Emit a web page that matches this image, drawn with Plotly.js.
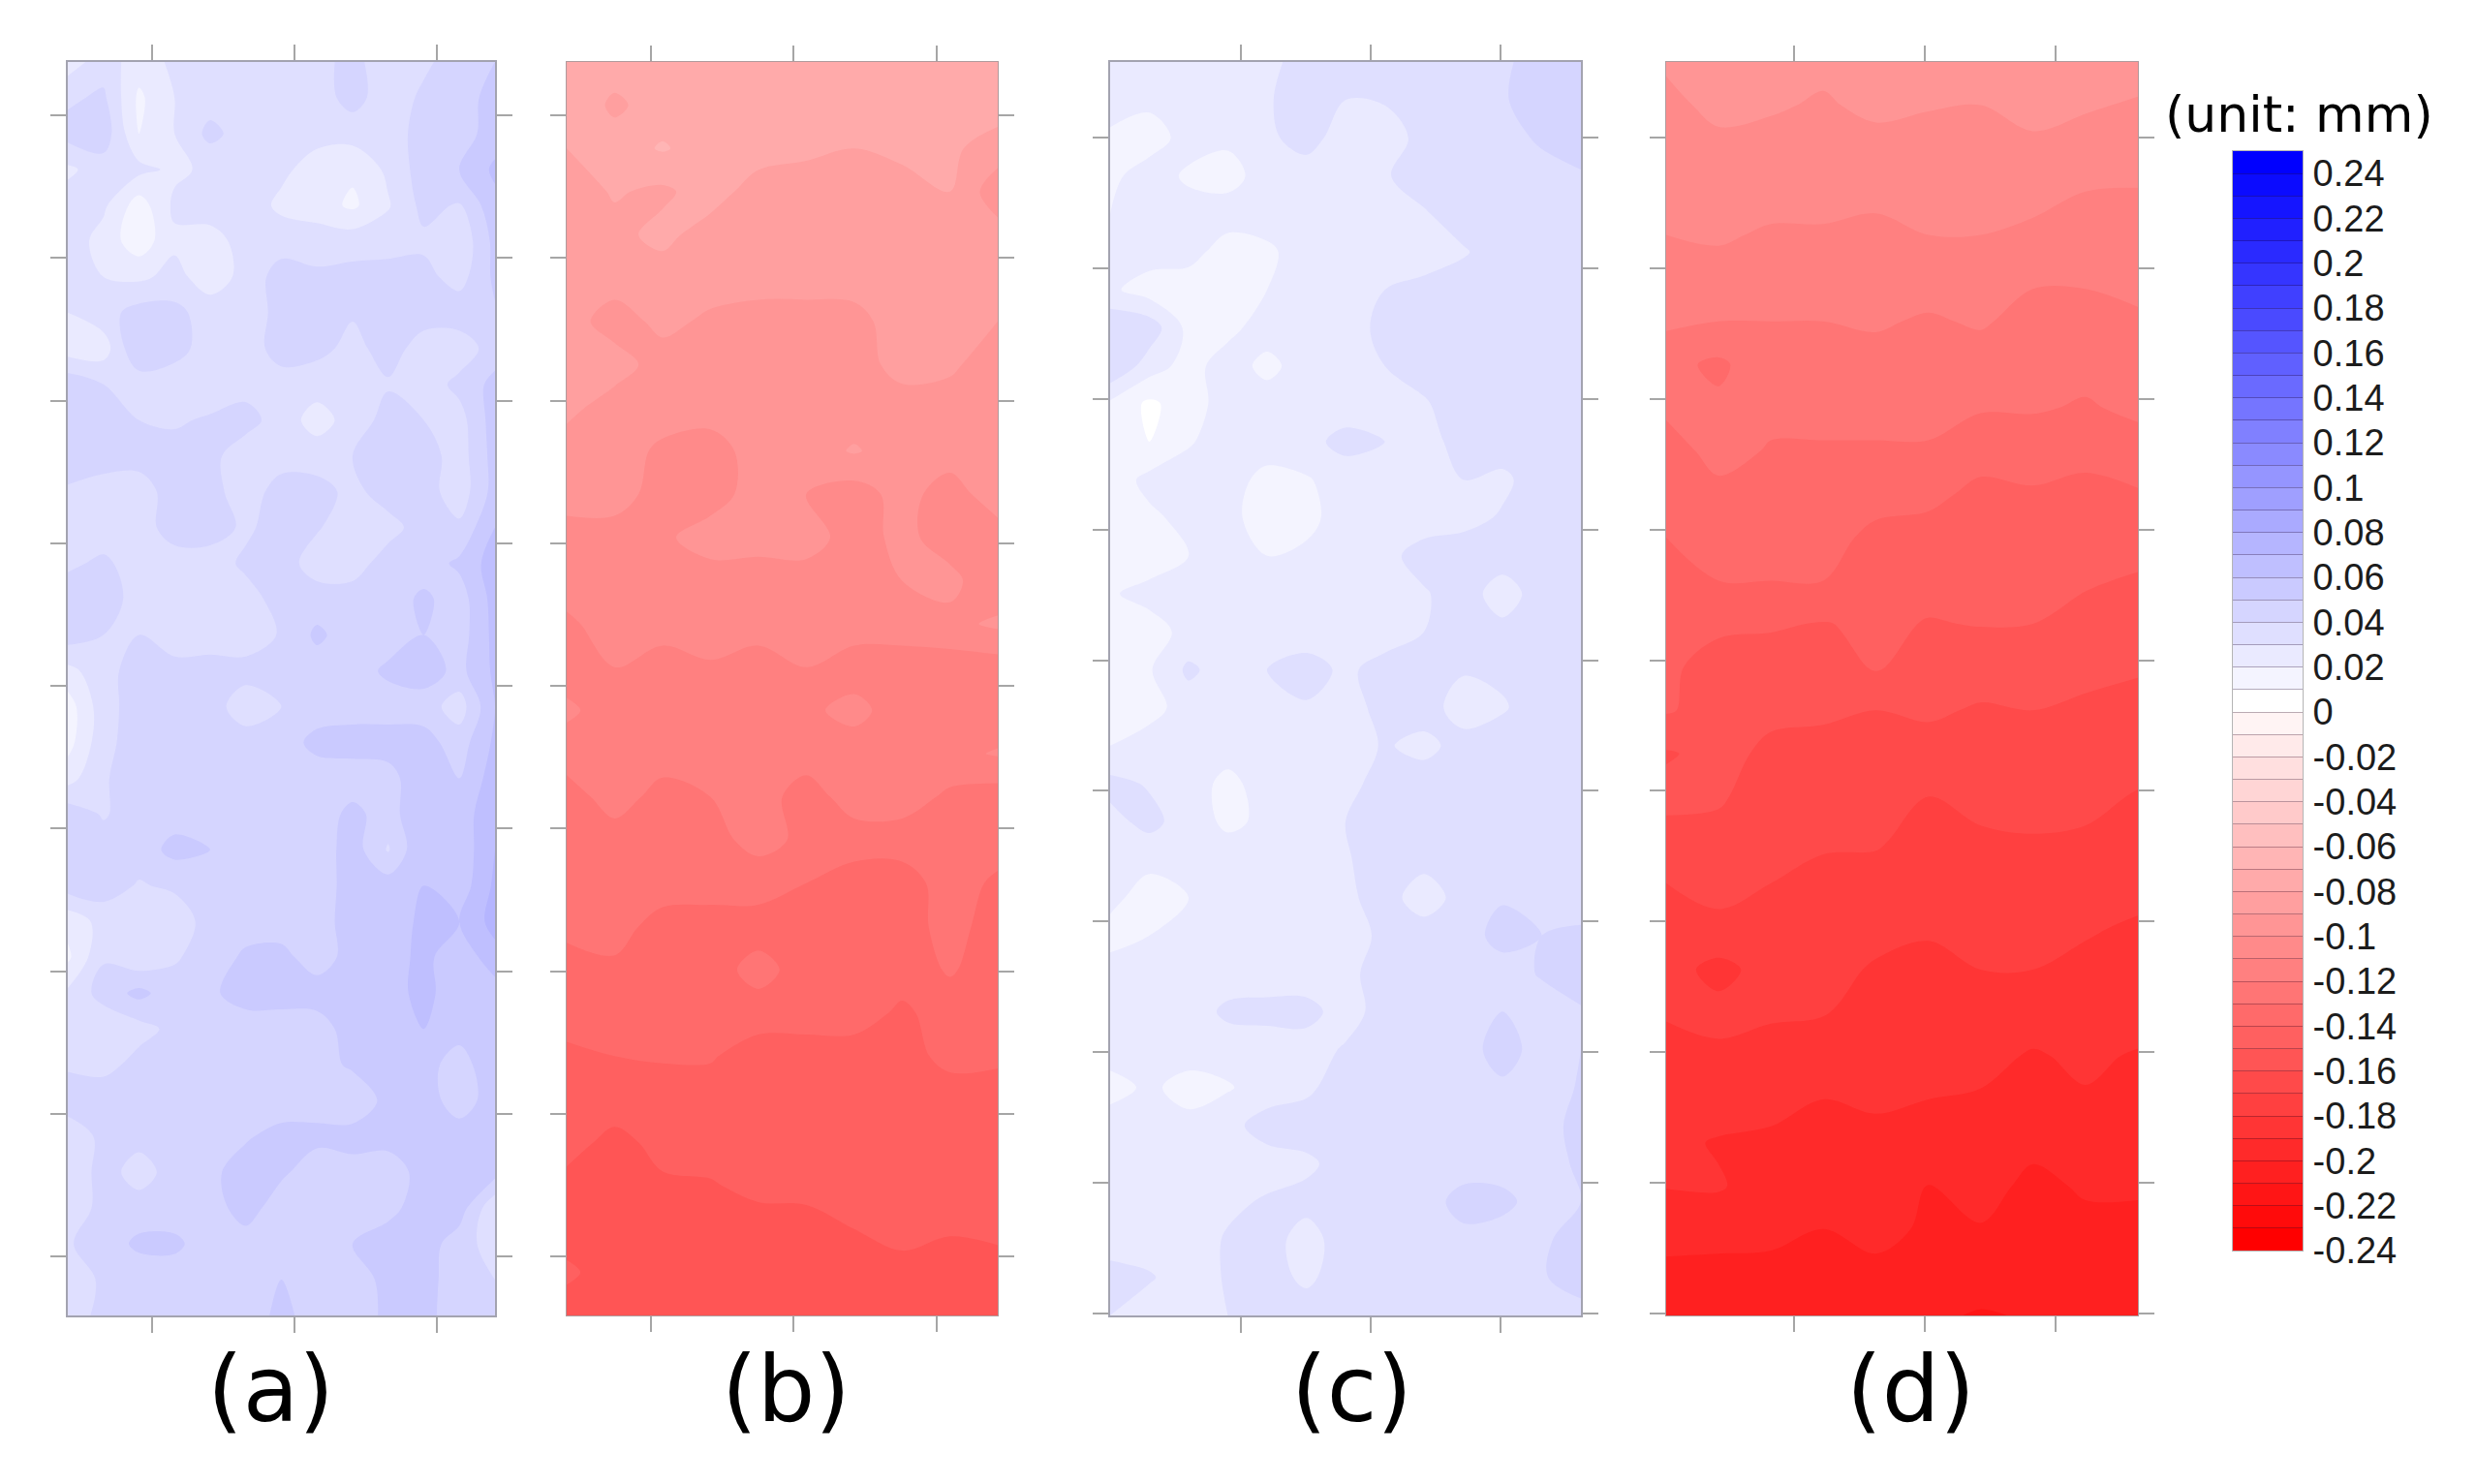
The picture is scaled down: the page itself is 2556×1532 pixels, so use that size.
<!DOCTYPE html>
<html>
<head>
<meta charset="utf-8">
<script src="https://cdn.plot.ly/plotly-3.0.1.min.js"></script>
<style>html,body{margin:0;padding:0;background:#fff}</style>
</head>
<body>
<div id="divplot" style="width:2556px;height:1532px"></div>
<script>
// displacement, hundredths of a mm, rows top to bottom
var zPanelA = [
    [2.5,3.5,2.5,3.2,3.5,3.5,3.5,3.5,4.5,3.0,3.8,4.5,5.0],
    [3.8,4.2,1.8,3.0,3.5,3.8,3.5,3.5,4.4,3.4,4.2,4.5,5.4],
    [4.4,4.6,2.0,3.0,4.3,3.5,3.5,3.3,3.4,3.5,4.4,4.5,5.5],
    [2.8,3.5,3.3,2.8,3.2,3.5,3.2,2.6,2.2,3.2,4.5,5.0,6.2],
    [3.5,3.2,1.5,3.2,3.5,3.5,2.8,2.5,1.8,2.9,4.3,3.9,5.7],
    [3.6,2.6,1.4,2.8,2.6,3.4,3.5,3.5,3.6,3.6,3.8,3.2,5.3],
    [3.6,3.0,2.8,3.3,2.5,3.3,4.5,4.2,4.3,4.4,4.3,3.6,5.2],
    [3.0,3.6,4.4,4.3,3.5,3.0,4.6,4.4,4.1,4.2,4.4,4.6,4.9],
    [2.5,2.5,5.0,4.4,3.5,3.4,4.5,4.3,3.7,4.4,3.6,3.4,4.5],
    [4.7,4.0,3.4,3.4,3.5,3.6,3.5,3.4,3.8,3.9,3.4,4.3,5.3],
    [5.0,4.4,4.0,3.9,4.1,4.4,3.5,2.6,3.4,4.4,4.0,3.6,5.5],
    [4.8,4.5,4.4,4.3,4.3,3.4,3.5,3.5,4.0,4.5,4.5,3.5,5.4],
    [3.8,3.5,3.5,4.5,4.4,3.4,4.5,4.4,3.7,4.5,4.5,3.4,5.4],
    [3.3,3.4,3.5,4.5,4.5,3.8,4.5,4.1,3.4,3.6,4.5,4.2,6.0],
    [3.8,4.2,3.5,3.5,3.5,4.2,4.5,3.5,3.5,4.5,4.5,5.2,6.5],
    [4.6,4.5,3.6,3.5,3.4,3.6,4.4,4.5,4.5,4.5,5.2,4.5,6.4],
    [4.5,4.0,4.0,3.4,3.4,3.4,4.1,5.2,4.5,4.5,5.0,4.5,6.3],
    [2.7,3.6,4.5,4.4,4.5,4.4,4.5,4.5,4.5,5.2,5.5,4.7,6.2],
    [1.5,3.6,4.5,4.5,4.5,3.4,4.0,4.5,4.5,4.5,4.5,3.5,6.0],
    [1.6,3.7,4.5,4.5,4.5,4.5,4.5,5.3,5.5,5.5,5.4,4.5,6.2],
    [2.6,3.9,4.5,4.5,4.5,5.0,4.6,4.5,4.4,4.6,5.8,5.0,6.5],
    [4.6,3.9,4.5,4.6,4.5,4.4,4.4,4.4,5.3,4.5,6.0,5.5,6.7],
    [4.6,4.5,4.5,5.3,5.0,4.4,4.4,4.4,5.5,3.9,6.0,5.3,7.0],
    [4.5,4.5,3.9,4.2,5.0,4.4,4.4,4.5,5.4,5.5,6.0,5.4,7.2],
    [2.3,3.4,3.0,3.3,4.5,4.5,4.5,4.4,5.6,5.5,6.2,6.0,7.4],
    [1.8,3.9,3.2,3.9,4.4,5.2,5.3,4.5,5.4,5.5,6.3,5.3,6.6],
    [3.2,4.4,5.3,4.4,4.8,5.5,5.5,5.5,5.5,5.6,6.3,5.4,5.5],
    [3.0,3.2,3.6,4.3,4.5,4.4,4.4,4.5,5.5,5.5,6.0,5.5,6.0],
    [3.8,3.6,4.4,4.5,4.5,4.5,4.5,4.5,5.2,5.5,5.5,4.4,6.0],
    [4.8,4.8,4.5,4.5,4.5,4.5,4.5,4.5,4.1,5.4,5.5,4.5,5.5],
    [3.0,4.4,4.4,4.5,4.5,4.9,5.3,5.3,5.5,5.5,5.5,5.5,6.0],
    [3.0,4.5,3.5,4.5,4.8,5.4,5.2,4.4,4.5,4.3,5.5,5.5,5.4],
    [3.0,4.5,4.5,4.5,4.5,5.5,4.4,4.4,4.4,4.7,5.5,5.5,3.2],
    [3.9,4.5,5.2,5.2,4.5,4.5,4.4,4.4,5.0,5.5,5.5,4.5,3.5],
    [3.3,4.2,4.4,4.5,4.5,4.5,5.0,4.4,4.5,5.3,5.5,4.3,4.0],
    [3.3,4.4,4.4,4.4,4.4,4.4,5.3,4.5,4.5,5.2,5.4,4.3,4.2]
];
var zPanelB = [
    [-7.5,-7.5,-7.3,-7.2,-7.2,-7.5,-7.5,-7.5,-7.3,-7.5],
    [-7.2,-8.2,-7.5,-7.3,-7.0,-7.5,-7.5,-7.0,-7.2,-7.5],
    [-8.0,-7.5,-6.9,-7.5,-7.5,-7.8,-8.0,-7.7,-7.8,-8.5],
    [-8.5,-7.9,-8.2,-7.5,-8.5,-8.5,-8.5,-8.5,-8.0,-9.6],
    [-8.5,-8.3,-7.7,-8.5,-8.5,-8.6,-8.9,-8.3,-8.5,-8.6],
    [-9.0,-8.5,-8.5,-8.5,-8.5,-8.5,-8.5,-8.5,-8.5,-8.6],
    [-8.5,-9.5,-8.7,-9.2,-9.5,-9.5,-9.4,-8.4,-8.9,-9.0],
    [-8.5,-8.5,-9.5,-9.5,-9.5,-9.5,-9.5,-8.6,-8.8,-9.6],
    [-8.7,-9.5,-9.5,-9.5,-9.5,-9.5,-9.5,-9.5,-9.5,-9.5],
    [-9.5,-9.5,-10.2,-10.5,-9.5,-9.5,-8.9,-9.5,-9.5,-9.5],
    [-9.5,-9.5,-10.5,-10.5,-9.5,-10.0,-10.5,-9.6,-10.5,-9.4],
    [-10.5,-10.5,-10.2,-9.5,-9.6,-9.5,-10.5,-9.7,-10.5,-10.5],
    [-10.5,-10.5,-10.5,-10.5,-10.5,-10.5,-10.5,-10.0,-9.7,-10.8],
    [-11.2,-10.5,-10.5,-10.5,-10.5,-10.5,-10.5,-10.5,-10.3,-9.8],
    [-11.5,-11.0,-11.5,-11.1,-11.5,-11.0,-11.5,-11.5,-11.5,-11.5],
    [-10.8,-11.5,-11.0,-11.5,-11.5,-11.2,-10.7,-11.5,-11.5,-11.7],
    [-11.5,-11.5,-11.5,-11.5,-11.5,-11.5,-11.5,-11.5,-11.3,-10.9],
    [-12.5,-11.5,-12.4,-12.0,-11.5,-12.5,-11.5,-11.5,-12.2,-12.5],
    [-12.5,-12.5,-12.5,-12.3,-11.7,-12.2,-12.5,-12.5,-12.5,-12.5],
    [-12.5,-12.5,-12.5,-12.5,-12.5,-13.0,-13.5,-13.5,-12.5,-13.2],
    [-12.7,-12.6,-13.4,-13.5,-13.5,-13.0,-13.5,-13.5,-12.6,-13.5],
    [-13.5,-13.2,-13.5,-13.5,-12.6,-13.5,-13.5,-13.5,-12.9,-13.5],
    [-13.0,-13.5,-13.5,-13.5,-13.5,-13.5,-13.5,-14.2,-13.5,-13.5],
    [-14.5,-14.0,-13.9,-13.9,-14.5,-14.5,-14.5,-14.4,-13.7,-13.8],
    [-14.5,-14.3,-14.5,-14.5,-14.5,-14.5,-14.5,-14.5,-14.5,-14.5],
    [-14.5,-15.4,-14.6,-14.5,-14.5,-14.5,-14.5,-14.5,-14.5,-14.5],
    [-15.4,-15.5,-15.2,-15.1,-14.7,-14.6,-14.5,-14.5,-14.5,-14.5],
    [-15.5,-15.5,-15.5,-15.5,-15.5,-15.5,-15.0,-14.8,-14.9,-14.7],
    [-14.8,-15.5,-15.5,-15.5,-15.5,-15.5,-15.5,-15.2,-15.5,-15.5],
    [-15.5,-15.5,-15.5,-15.5,-15.5,-15.5,-15.5,-15.5,-15.5,-15.5]
];
var zPanelC = [
    [2.5,2.5,2.5,2.5,2.8,3.3,3.4,3.5,3.5,3.5,3.8,4.5,4.6],
    [2.5,2.3,2.5,2.5,2.9,3.5,3.0,3.1,3.5,3.5,3.9,4.5,4.5],
    [1.8,1.4,2.5,2.2,2.8,3.4,2.5,2.4,3.4,3.5,3.5,4.2,4.5],
    [1.7,2.6,1.8,1.6,2.5,2.5,2.5,2.9,3.5,3.5,3.5,3.5,3.9],
    [2.0,2.5,2.5,2.5,2.5,2.5,2.5,2.6,2.9,3.5,3.5,3.5,3.5],
    [2.5,2.5,2.4,1.5,1.8,2.5,2.5,2.5,2.5,2.9,3.5,3.5,3.5],
    [2.2,1.5,1.4,1.5,2.0,3.0,2.5,3.0,3.3,3.5,3.5,3.5,3.5],
    [3.8,3.6,1.7,1.7,2.5,2.5,2.5,3.3,3.5,3.4,3.5,3.5,3.5],
    [4.0,2.5,1.6,2.5,1.7,2.5,2.5,3.0,3.4,3.5,3.5,3.5,3.5],
    [1.8,0.8,1.5,2.5,2.5,2.5,2.5,2.5,2.9,3.5,3.5,3.5,3.9],
    [1.4,1.0,1.9,2.5,2.5,2.7,3.3,3.0,2.6,3.4,3.5,3.5,3.9],
    [1.4,2.3,2.5,2.4,1.7,1.9,2.5,2.5,2.5,3.0,2.8,3.5,3.5],
    [1.4,1.8,2.3,2.3,1.5,1.7,2.5,2.5,2.5,2.7,3.1,3.5,3.5],
    [1.5,1.5,2.0,2.7,2.0,2.2,2.5,2.7,3.4,3.5,3.5,3.5,3.5],
    [1.9,2.3,2.5,2.5,2.5,2.5,2.6,2.5,2.9,3.5,2.5,3.5,3.5],
    [1.5,1.6,2.3,2.5,2.5,2.5,2.5,2.5,3.0,3.4,3.3,3.5,3.5],
    [1.4,1.9,3.2,2.5,3.0,3.4,2.8,3.4,3.5,3.1,3.2,3.5,3.5],
    [1.6,1.6,2.5,2.5,2.9,2.9,2.5,3.4,3.5,2.5,2.9,3.5,3.5],
    [2.0,2.5,2.5,2.5,2.5,2.5,2.5,3.1,2.7,3.4,3.5,3.5,3.5],
    [3.3,2.9,2.5,1.7,2.5,2.5,2.6,3.5,3.5,3.5,3.5,3.5,3.5],
    [2.7,3.3,2.5,1.8,2.2,2.5,3.0,3.5,3.5,3.5,3.5,3.5,3.5],
    [2.5,2.3,2.5,2.5,2.5,2.5,2.9,3.5,3.3,3.5,3.5,3.5,3.5],
    [2.3,1.5,2.0,2.5,2.5,2.5,2.8,3.4,2.5,3.4,3.9,3.5,3.5],
    [1.6,2.0,2.5,2.5,2.5,2.5,2.6,3.2,3.5,3.5,4.4,4.0,4.2],
    [2.5,2.5,2.5,2.5,2.5,2.5,2.7,3.5,3.5,3.5,3.5,4.1,4.5],
    [2.5,2.5,2.5,3.2,3.3,3.3,2.6,3.4,3.5,3.5,4.0,3.5,3.9],
    [2.5,2.5,2.5,2.5,2.5,2.6,3.1,3.5,3.5,3.5,4.5,3.5,4.0],
    [1.6,2.2,1.6,1.9,2.5,2.8,3.5,3.5,3.5,3.5,3.8,3.5,4.1],
    [2.5,2.5,2.3,2.7,3.4,3.5,3.4,3.5,3.5,3.5,4.0,3.5,4.4],
    [2.5,2.5,2.5,2.5,2.6,2.8,3.4,3.5,3.5,3.5,3.5,3.5,4.2],
    [2.5,2.6,2.5,2.8,3.1,3.3,3.7,3.5,3.5,4.4,4.3,3.5,4.0],
    [2.5,2.5,2.5,3.1,3.4,2.6,3.5,3.5,3.5,3.7,3.5,3.8,4.5],
    [3.4,3.1,2.5,3.1,3.4,2.8,3.5,3.5,3.5,3.5,3.8,3.9,4.5],
    [3.0,2.5,2.5,3.0,3.4,3.5,3.5,3.5,3.5,3.5,3.5,3.5,3.6]
];
var zPanelD = [
    [-9.9,-9.5,-9.5,-9.8,-9.3,-9.6,-9.7,-9.4,-9.5,-9.6],
    [-10.2,-9.8,-9.9,-10.1,-9.8,-9.95,-10,-9.7,-9.9,-10.1],
    [-10.5,-10.2,-10.3,-10.4,-10.3,-10.3,-10.3,-10.2,-10.4,-10.6],
    [-10.7,-10.5,-10.7,-10.7,-10.8,-10.6,-10.7,-10.7,-11,-11.04],
    [-11,-10.9,-11.1,-11.1,-11.2,-11,-11,-11.2,-11.4,-11.4],
    [-11.4,-11.3,-11.6,-11.5,-11.6,-11.6,-11.4,-11.9,-11.9,-11.8],
    [-11.8,-12,-12,-12,-11.9,-12.1,-11.9,-12.3,-12.3,-12.1],
    [-12.7,-13.2,-12.3,-12.3,-12.3,-12.4,-12.4,-12.6,-12.7,-12.5],
    [-12.8,-12.8,-12.7,-12.7,-12.7,-12.7,-12.9,-12.9,-13.1,-12.8],
    [-13.5,-12.6,-13.1,-13.1,-13.1,-13.1,-13.7,-13.6,-13.8,-13.4],
    [-13.8,-13.3,-13.4,-13.4,-13.7,-13.8,-14.2,-14.1,-14.2,-14.1],
    [-14,-13.7,-13.7,-13.7,-14.2,-14.3,-14.4,-14.4,-14.6,-14.6],
    [-14.4,-14,-14,-14,-14.5,-14.7,-14.7,-14.7,-14.9,-15.1],
    [-14.8,-14.9,-14.9,-15.05,-14.8,-15.05,-14.96,-15,-15.3,-15.5],
    [-14.9,-15.2,-15.4,-15.5,-14.9,-15.45,-15.55,-15.54,-15.77,-15.9],
    [-14.9,-15.4,-15.8,-15.9,-16,-15.85,-16.1,-16,-16.15,-16.3],
    [-16.1,-15.7,-16.2,-16.2,-16.3,-16.4,-16.45,-16.4,-16.5,-16.7],
    [-15.7,-15.9,-16.4,-16.55,-16.6,-17,-16.8,-16.7,-16.8,-17.06],
    [-16.4,-16.25,-16.7,-16.9,-16.9,-17.3,-17.1,-17.05,-17.1,-17.4],
    [-17,-16.7,-17,-17.2,-17.3,-17.6,-17.4,-17.4,-17.5,-17.7],
    [-17.3,-17.2,-17.3,-17.4,-17.7,-17.9,-17.7,-17.7,-17.9,-18.1],
    [-17.6,-18.3,-17.6,-17.7,-18.1,-18.2,-18,-18,-18.2,-18.3],
    [-17.95,-17.7,-17.9,-17.95,-18.4,-18.4,-18.3,-18.5,-18.5,-18.5],
    [-18.2,-18.2,-18.3,-18.5,-18.6,-18.7,-18.7,-19.1,-18.8,-19.1],
    [-18.5,-18.4,-18.75,-19,-18.9,-19,-19.1,-19.4,-19.1,-19],
    [-18.7,-19.1,-19.15,-19.3,-19.2,-19.3,-19.4,-19.8,-19.5,-19.5],
    [-18.95,-18.9,-19.5,-19.65,-19.5,-20.05,-19.7,-20.2,-19.9,-19.9],
    [-19.65,-19.6,-19.8,-20,-19.8,-20.1,-20.05,-20.5,-20.2,-20.2],
    [-20.2,-20.3,-20.2,-20.4,-20.15,-20.4,-20.4,-20.8,-20.5,-20.5],
    [-20.6,-20.7,-20.6,-20.8,-20.5,-20.8,-21.1,-20.9,-20.8,-20.8]
];

var xTicks = [-50, 0, 50];
var yTicksAB = [0, 50, 100, 150, 200, 250, 300, 350, 400];
var yTicksCD = [0, 50, 100, 150, 200, 250, 300, 350, 400, 450];
var panelNames = ['(a)', '(b)', '(c)', '(d)'];

var barTicks = [0.24, 0.22, 0.2, 0.18, 0.16, 0.14, 0.12, 0.1, 0.08, 0.06, 0.04, 0.02, 0,
    -0.02, -0.04, -0.06, -0.08, -0.1, -0.12, -0.14, -0.16, -0.18, -0.2, -0.22, -0.24];
var barLabels = ['0.24', '0.22', '0.2', '0.18', '0.16', '0.14', '0.12', '0.1', '0.08', '0.06', '0.04', '0.02', '0',
    '-0.02', '-0.04', '-0.06', '-0.08', '-0.1', '-0.12', '-0.14', '-0.16', '-0.18', '-0.2', '-0.22', '-0.24'];
var barMinor = [0.23, 0.21, 0.19, 0.17, 0.15, 0.13, 0.11, 0.09, 0.07, 0.05, 0.03, 0.01,
    -0.01, -0.03, -0.05, -0.07, -0.09, -0.11, -0.13, -0.15, -0.17, -0.19, -0.21, -0.23];

var W = 2556, H = 1532;

// one stop per contour band: below -0.24, 49 bands, above 0.25
var bandColors = [];
for (var i = 0; i <= 50; i++) {
    var k = i - 25;
    var c = k < 0 ? Math.round(255 * (1 + k / 24)) : Math.round(255 * (1 - k / 24));
    c = Math.max(c, 0);
    var col = k < 0 ? 'rgb(255,' + c + ',' + c + ')' : 'rgb(' + c + ',' + c + ',255)';
    bandColors.push([i / 50, col]);
}

function mm(rows) {
    return rows.map(function (r) {
        return r.map(function (v) { return v / 100; });
    });
}

function panel(z, axis, x0, dx, y0, dy) {
    return {
        type: 'contour',
        z: mm(z),
        x0: x0, dx: dx,
        y0: y0, dy: dy,
        xaxis: 'x' + axis,
        yaxis: 'y' + axis,
        autocontour: false,
        contours: {start: -0.24, end: 0.25, size: 0.01, coloring: 'fill', showlines: false},
        line: {width: 0, smoothing: 1},
        colorscale: bandColors,
        showscale: false,
        hoverinfo: 'skip'
    };
}

// color key as its own small heatmap, so that the band edges sit on the labels
var barLevels = [], barZ = [];
for (var j = 0; j < 49; j++) {
    var level = -0.235 + j * 0.01;
    barLevels.push(level);
    barZ.push([level]);
}
var keyTrace = {
    type: 'heatmap',
    x: [0],
    y: barLevels,
    z: barZ,
    zmin: -0.245,
    zmax: 0.255,
    colorscale: bandColors,
    showscale: false,
    xaxis: 'x5',
    yaxis: 'y5',
    hoverinfo: 'skip'
};

var traceData = [
    panel(zPanelA, '', -79.5, 12.48, -18.7, 12.554),
    panel(zPanelB, '2', -79.5, 16.77, -18.7, 15.152),
    panel(zPanelC, '3', -100.6, 15.15, -28.9, 14.533),
    panel(zPanelD, '4', -98.9, 20.04, -28.9, 16.538),
    keyTrace
];

function xAxis(left, right, range, lineColor, lineWidth, anchor) {
    return {
        domain: [left / W, right / W], range: range, anchor: anchor,
        tickmode: 'array', tickvals: xTicks, ticks: 'outside', ticklen: 16, tickwidth: 2,
        tickcolor: '#a6a6a6', showticklabels: false, showgrid: false, zeroline: false,
        showline: true, mirror: 'ticks', linecolor: lineColor, linewidth: lineWidth
    };
}
function yAxis(range, ticks, lineColor, lineWidth, anchor) {
    return {
        domain: [1 - 1358 / H, 1 - 64 / H], range: range, anchor: anchor,
        tickmode: 'array', tickvals: ticks, ticks: 'outside', ticklen: 16, tickwidth: 2,
        tickcolor: '#a6a6a6', showticklabels: false, showgrid: false, zeroline: false,
        showline: true, mirror: 'ticks', linecolor: lineColor, linewidth: lineWidth
    };
}

function label(text, x, y, size) {
    return {
        text: text, xref: 'paper', yref: 'paper', x: x / W, y: 1 - y / H,
        xanchor: 'center', yanchor: 'middle', showarrow: false,
        font: {family: '"DejaVu Sans"', size: size, color: '#000'}
    };
}

var layout = {
    width: W,
    height: H,
    margin: {l: 0, r: 0, t: 0, b: 0},
    paper_bgcolor: '#fff',
    plot_bgcolor: '#fff',
    showlegend: false,
    xaxis: xAxis(70, 511, [-79.5, 70.3], '#a3a3b0', 2, 'y'),
    yaxis: yAxis([420.7, -18.7], yTicksAB, '#a3a3b0', 2, 'x'),
    xaxis2: xAxis(585, 1030, [-79.5, 71.4], '#b09a9c', 1, 'y2'),
    yaxis2: yAxis([420.7, -18.7], yTicksAB, '#b09a9c', 1, 'x2'),
    xaxis3: xAxis(1146, 1632, [-100.6, 81.2], '#a3a3b0', 2, 'y3'),
    yaxis3: yAxis([450.7, -28.9], yTicksCD, '#a3a3b0', 2, 'x3'),
    xaxis4: xAxis(1720, 2207, [-98.9, 81.5], '#b09a9c', 1, 'y4'),
    yaxis4: yAxis([450.7, -28.9], yTicksCD, '#b09a9c', 1, 'x4'),
    xaxis5: {
        domain: [2305 / W, 2377 / W], range: [-0.5, 0.5], anchor: 'y5',
        showticklabels: false, ticks: '', showgrid: false, zeroline: false,
        showline: true, mirror: true, linecolor: '#b5b5b5', linewidth: 1
    },
    yaxis5: {
        domain: [1 - 1291 / H, 1 - 156 / H], range: [-0.24, 0.25], anchor: 'x5', side: 'right',
        tickmode: 'array', tickvals: barTicks, ticktext: barLabels,
        ticks: 'inside', ticklen: 72, tickwidth: 1, tickcolor: 'rgba(30,0,30,0.3)',
        minor: {tickmode: 'array', tickvals: barMinor, ticks: 'inside', ticklen: 72, tickwidth: 1, tickcolor: 'rgba(30,0,30,0.3)', showgrid: false},
        ticklabelstandoff: 2,
        tickfont: {family: '"Liberation Sans"', size: 38, color: '#1c1c1c'},
        showgrid: false, zeroline: false,
        showline: true, mirror: true, linecolor: '#b5b5b5', linewidth: 1
    },
    annotations: [
        label(panelNames[0], 279, 1434, 94),
        label(panelNames[1], 812, 1434, 94),
        label(panelNames[2], 1395, 1434, 94),
        label(panelNames[3], 1972, 1434, 94),
        label('(unit: mm)', 2373, 118, 52)
    ]
};

Plotly.newPlot('divplot', traceData, layout, {displayModeBar: false, responsive: false});
</script>
</body>
</html>
